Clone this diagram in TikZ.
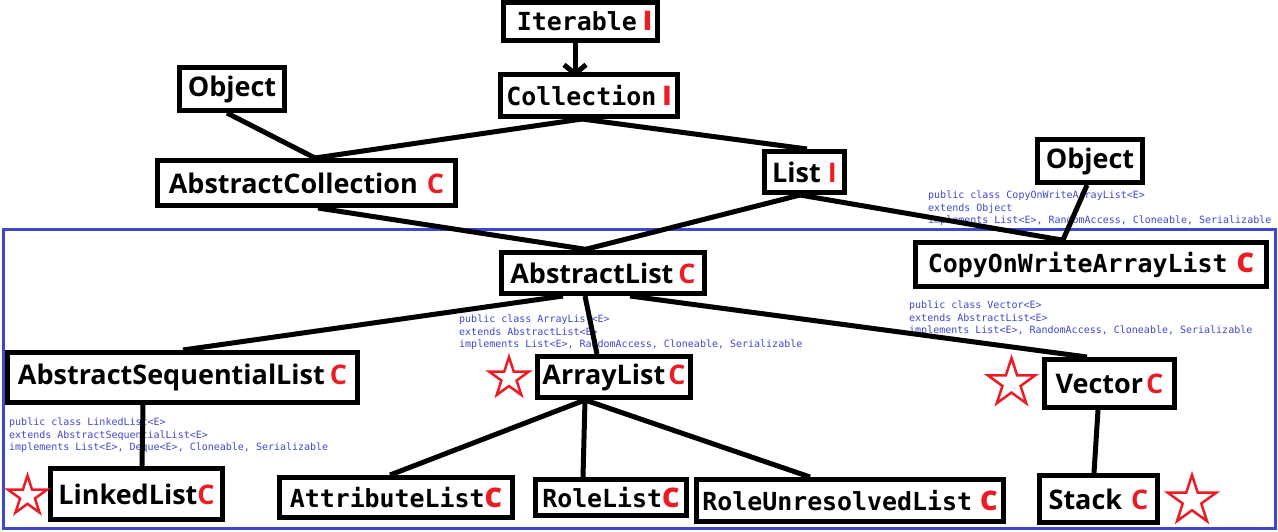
\documentclass[tikz,border=0pt]{standalone}
\usepackage{fontspec}
\IfFontExistsTF{Noto Sans Bold}{\newfontfamily\sansb{Noto Sans Bold}}{%
  \IfFontExistsTF{Open Sans Bold}{\newfontfamily\sansb{Open Sans Bold}}{\newfontfamily\sansb{DejaVu Sans Bold}}}
\newfontfamily\monob{DejaVu Sans Mono}
\usetikzlibrary{arrows.meta,shapes.geometric}
\definecolor{pred}{HTML}{ED1C24}
\definecolor{pblue}{HTML}{3F48CC}
\newcommand\rc[1]{\textcolor{pred}{\sansb\fontsize{27}{30}\selectfont #1}}
\tikzset{
  cls/.style={draw, line width=5pt, fill=white, inner sep=0pt, font=\sansb\fontsize{27}{30}\selectfont},
  mcls/.style={cls, font=\monob\bfseries\fontsize{24.9}{30}\selectfont},
  conn/.style={line width=5pt},
  note/.style={text=pblue, font=\monob\fontsize{10}{12.5}\selectfont, align=left, anchor=north west, inner sep=0pt},
  redstar/.style={star, star points=5, star point ratio=2.618, draw=pred, line width=2.5pt, inner sep=0pt},
  frame/.style={draw=pblue, line width=3pt, inner sep=0pt},
}
\begin{document}
\begin{tikzpicture}[x=1pt,y=-1pt]
\useasboundingbox (0,0) rectangle (1278,531);
% frame
\node[frame, minimum width=1272pt, minimum height=299pt] (frm) at (639.5,379) {};
% notes
\node[note] (ncow) at (928,191) {public class CopyOnWriteArrayList<E>\\extends Object\\implements List<E>, RandomAccess, Cloneable, Serializable};
\node[note] (narr) at (459,315) {public class ArrayList<E>\\extends AbstractList<E>\\implements List<E>, RandomAccess, Cloneable, Serializable};
\node[note] (nvec) at (909,301) {public class Vector<E>\\extends AbstractList<E>\\implements List<E>, RandomAccess, Cloneable, Serializable};
\node[note] (nll) at (9,418) {public class LinkedList<E>\\extends AbstractSequentialList<E>\\implements List<E>, Deque<E>, Cloneable, Serializable};
% boxes
\node[mcls, minimum width=154pt, minimum height=38pt] (iter) at (580.5,21.5) {\hspace{8pt}Iterable\hspace{6pt}\rc{I}};
\node[mcls, minimum width=177pt, minimum height=42pt] (coll) at (589,95.5) {Collection\hspace{6pt}\rc{I}};
\node[cls, minimum width=105pt, minimum height=43pt] (obja) at (232,89) {Object};
\node[cls, minimum width=298pt, minimum height=45pt] (acoll) at (306.5,183) {AbstractCollection\hspace{9pt}\rc{C}};
\node[cls, minimum width=80pt, minimum height=41pt] (list) at (804.5,172) {List\hspace{7pt}\rc{I}};
\node[cls, minimum width=105pt, minimum height=43pt] (objb) at (1090,161) {Object};
\node[mcls, minimum width=351pt, minimum height=44pt] (cow) at (1091,264.5) {CopyOnWriteArrayList\hspace{9pt}\rc{C}};
\node[cls, minimum width=203pt, minimum height=41pt] (alist) at (603,273) {AbstractList\hspace{5pt}\rc{C}};
\node[cls, minimum width=350pt, minimum height=50pt] (asl) at (182.5,377.5) {AbstractSequentialList\hspace{5pt}\rc{C}};
\node[cls, minimum width=153pt, minimum height=41pt] (arr) at (614,377) {ArrayList\hspace{3pt}\rc{C}};
\node[cls, minimum width=130pt, minimum height=48pt] (vec) at (1109.5,383.5) {Vector\hspace{3pt}\rc{C}};
\node[cls, minimum width=172pt, minimum height=51pt] (ll) at (136.5,494) {LinkedList\rc{C}};
\node[mcls, minimum width=233pt, minimum height=40pt] (attr) at (396,497.5) {AttributeList\rc{C}};
\node[mcls, minimum width=151pt, minimum height=36pt] (role) at (611,497.5) {RoleList\rc{C}};
\node[mcls, minimum width=307pt, minimum height=42pt] (rur) at (850,500.5) {RoleUnresolvedList\hspace{8pt}\rc{C}};
\node[cls, minimum width=118pt, minimum height=47pt] (stack) at (1098.5,499) {Stack\hspace{9pt}\rc{C}};
% stars
\node[redstar, minimum size=42pt] (sarr) at (509,378) {};
\node[redstar, minimum size=50pt] (svec) at (1011.5,383) {};
\node[redstar, minimum size=41pt] (sll) at (27.5,496) {};
\node[redstar, minimum size=51pt] (sstack) at (1192,500.5) {};
% connectors
\draw[conn, -{Straight Barb[length=9pt,width=22pt]}, shorten >=-5pt] ([xshift=-5.5pt]iter.south) -- ([xshift=-14pt]coll.north);
\draw[conn] ([xshift=-7pt]coll.south) -- ([xshift=8.5pt]acoll.north);
\draw[conn] ([xshift=-5pt]obja.south) -- ([xshift=8.5pt]acoll.north);
\draw[conn] ([xshift=-7pt]coll.south) -- ([xshift=2.5pt]list.north);
\draw[conn] ([xshift=11.5pt]acoll.south) -- ([xshift=-13pt]alist.north);
\draw[conn] ([xshift=-4.5pt]list.south) -- ([xshift=-20pt]alist.north);
\draw[conn] ([xshift=-4.5pt]list.south) -- ([xshift=-29pt]cow.north);
\draw[conn] ([xshift=-3pt]objb.south) -- ([xshift=-28pt]cow.north);
\draw[conn] ([xshift=-40pt]alist.south) -- ([xshift=0.5pt]asl.north);
\draw[conn] ([xshift=-18pt]alist.south) -- ([xshift=-17pt]arr.north);
\draw[conn] ([xshift=27pt]alist.south) -- ([xshift=-22.5pt]vec.north);
\draw[conn] ([xshift=-39.5pt]asl.south) -- ([xshift=5.5pt]ll.north);
\draw[conn] ([xshift=-29pt]arr.south) -- ([xshift=-6pt]attr.north);
\draw[conn] ([xshift=-29pt]arr.south) -- ([xshift=-28pt]role.north);
\draw[conn] ([xshift=-29pt]arr.south) -- ([xshift=-40pt]rur.north);
\draw[conn] ([xshift=-11.5pt]vec.south) -- ([xshift=-4.5pt]stack.north);
\end{tikzpicture}
\end{document}
